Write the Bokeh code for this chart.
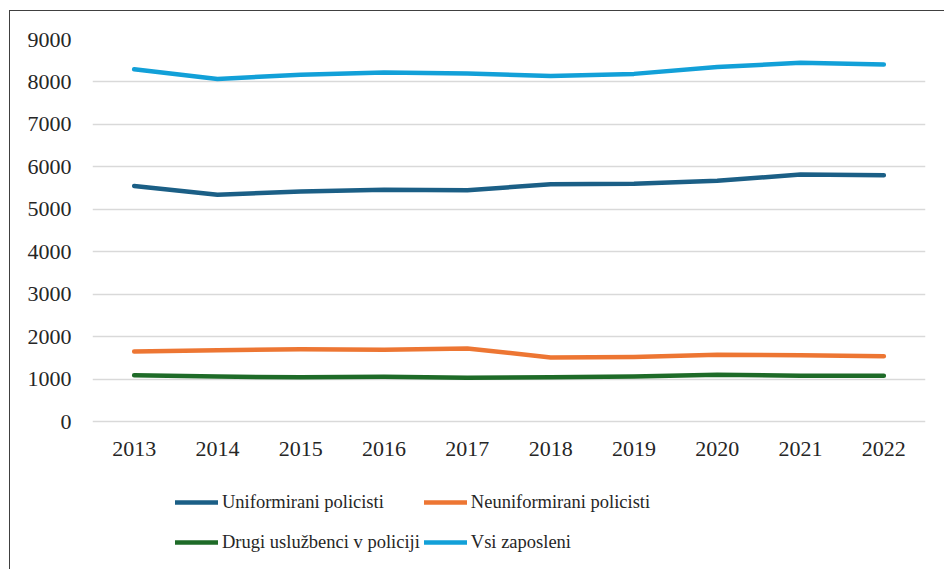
from bokeh.plotting import figure
from bokeh.models import FactorRange, Range1d, FixedTicker, Legend, LegendItem, ColumnDataSource
from bokeh.embed import file_html
from bokeh.resources import INLINE

years = ["2013", "2014", "2015", "2016", "2017", "2018", "2019", "2020", "2021", "2022"]
uniformirani = [5550, 5340, 5420, 5460, 5450, 5590, 5600, 5670, 5820, 5800]
neuniformirani = [1650, 1680, 1700, 1690, 1720, 1510, 1520, 1570, 1560, 1540]
drugi = [1090, 1060, 1040, 1055, 1030, 1040, 1060, 1100, 1080, 1080]
vsi = [8300, 8070, 8170, 8220, 8200, 8140, 8190, 8350, 8450, 8410]
y_ticks = [0, 1000, 2000, 3000, 4000, 5000, 6000, 7000, 8000, 9000]

series = [
    ("Uniformirani policisti", uniformirani, "#1b5f86"),
    ("Neuniformirani policisti", neuniformirani, "#ed7633"),
    ("Drugi uslužbenci v policiji", drugi, "#1e6b28"),
    ("Vsi zaposleni", vsi, "#12a0d8"),
]

FONT = "Liberation Serif"
TXT = "#262626"

# plot area: 9000 at page y=39, 0 at page y=421; frame extends down to y=570
# so that the legend can live below the x axis inside the frame
y_top = 9000
y_bottom = -(570 - 421) / (421 - 39) * 9000

p = figure(width=935, height=559, x_range=FactorRange(*years, range_padding=0),
           y_range=Range1d(y_bottom, y_top), output_backend="svg", toolbar_location=None,
           min_border_left=82, min_border_right=20, min_border_top=28, min_border_bottom=0)
p.styles = {"border-left": "1px solid #404040", "border-top": "1px solid #404040",
            "margin-left": "9px", "margin-top": "10px"}
p.outline_line_color = None
p.background_fill_color = "white"
p.border_fill_color = "white"

p.xgrid.grid_line_color = None
p.ygrid.grid_line_color = "#d9d9d9"
p.ygrid.grid_line_width = 1.5
p.yaxis.ticker = FixedTicker(ticks=y_ticks)
p.ygrid.ticker = FixedTicker(ticks=y_ticks)
p.xaxis.fixed_location = 0

for ax in (p.xaxis[0], p.yaxis[0]):
    ax.axis_line_color = None
    ax.major_tick_line_color = None
    ax.minor_tick_line_color = None
    ax.major_tick_out = 0
    ax.major_tick_in = 0
    ax.minor_tick_out = 0
    ax.minor_tick_in = 0
    ax.major_label_text_font = FONT
    ax.major_label_text_font_size = "22px"
    ax.major_label_text_color = TXT
p.yaxis.major_label_standoff = 21
p.xaxis.major_label_standoff = 20

items = []
src = ColumnDataSource(dict(x=years, **{f"s{i}": s[1] for i, s in enumerate(series)}))
for i, (name, vals, col) in enumerate(series):
    r = p.line(x="x", y=f"s{i}", source=src, line_color=col, line_width=4.5,
               line_cap="round", line_join="round")
    items.append(LegendItem(label=name, renderers=[r]))

legend = Legend(items=items, location=(83, 10), orientation="horizontal", ncols=2,
                label_text_font=FONT, label_text_font_size="18.5px", label_text_color=TXT,
                glyph_width=43, glyph_height=36, label_height=36, label_standoff=4,
                spacing=4, padding=0, margin=0, border_line_color=None,
                background_fill_alpha=0)
p.add_layout(legend, "center")

open("out.html", "w").write(file_html(p, INLINE))
